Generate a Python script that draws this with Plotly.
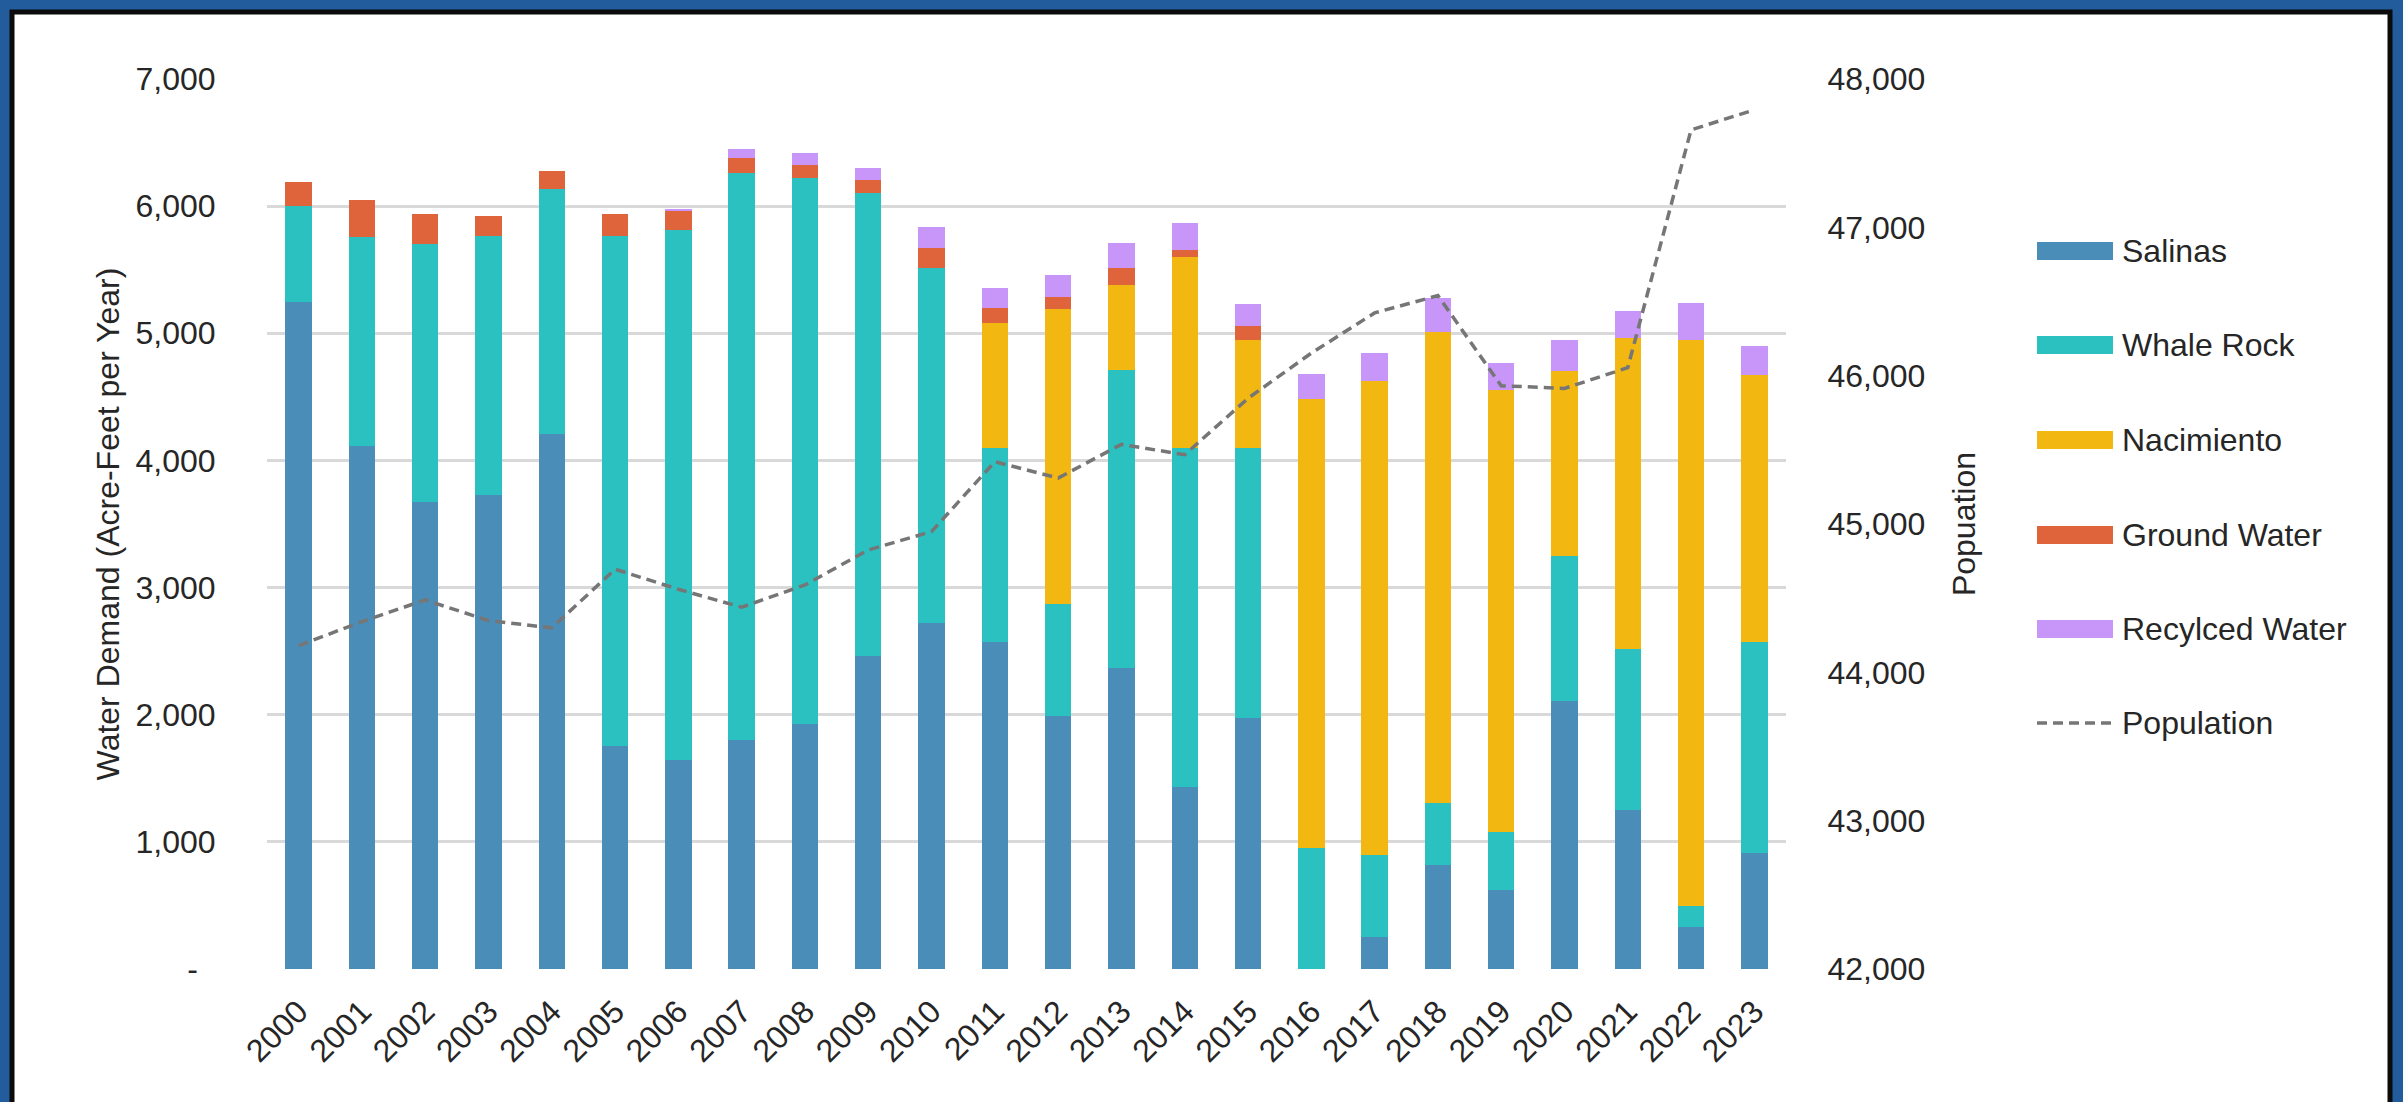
import plotly.graph_objects as go

years = [str(y) for y in range(2000, 2024)]

salinas = [5250, 4115, 3670, 3730, 4205, 1755, 1640, 1805, 1925, 2462, 2721, 2570,
           1990, 2368, 1434, 1977, 0, 255, 821, 624, 2105, 1250, 329, 916]
whale_rock = [750, 1640, 2035, 2035, 1930, 4010, 4175, 4455, 4300, 3645, 2793, 1530,
              880, 2344, 2662, 2123, 953, 645, 482, 455, 1140, 1263, 163, 1658]
nacimiento = [0, 0, 0, 0, 0, 0, 0, 0, 0, 0, 0, 980,
              2320, 670, 1506, 844, 3533, 3724, 3711, 3476, 1458, 2449, 4452, 2099]
ground_water = [190, 295, 230, 155, 145, 170, 150, 120, 95, 95, 155, 115,
                95, 130, 50, 110, 0, 0, 0, 0, 0, 0, 0, 0]
recycled_water = [0, 0, 0, 0, 0, 0, 15, 70, 100, 100, 170, 160,
                  170, 195, 215, 180, 190, 221, 262, 211, 244, 217, 296, 226]
population = [44180, 44342, 44488, 44349, 44300, 44695, 44560, 44439, 44589, 44825, 44949, 45420,
              45310, 45537, 45467, 45847, 46152, 46423, 46540, 45932, 45914, 46054, 47657, 47792]

series_names = ["Salinas", "Whale Rock", "Nacimiento", "Ground Water", "Recylced Water"]
series_values = [salinas, whale_rock, nacimiento, ground_water, recycled_water]
series_colors = ["#4A8DB8", "#2BC1C1", "#F2B711", "#E0643B", "#C895F8"]
pop_name = "Population"
pop_color = "#767676"

left_tick_vals = [0, 1000, 2000, 3000, 4000, 5000, 6000, 7000]
left_tick_text = ["-\u00a0\u00a0", "1,000", "2,000", "3,000", "4,000", "5,000", "6,000", "7,000"]
right_tick_vals = [42000, 43000, 44000, 45000, 46000, 47000, 48000]

left_title = "Water Demand (Acre-Feet per Year)"
right_title = "Popuation"

# ---- layout geometry (pixels) ----
W, H = 2403, 1102
PL, PR, PT, PB = 267, 1786, 79, 969
FONT = "Liberation Sans, Arial, sans-serif"
TXT = "#262626"
FS = 32

def px_x(x):
    return (x - PL) / (PR - PL)

def px_y(y):
    return (PB - y) / (PB - PT)

fig = go.Figure()
for name, vals, col in zip(series_names, series_values, series_colors):
    fig.add_trace(go.Bar(x=years, y=vals, name=name, marker=dict(color=col, line=dict(width=0)),
                         showlegend=False))
fig.add_trace(go.Scatter(x=years, y=population, name=pop_name, yaxis="y2", mode="lines",
                         line=dict(color=pop_color, width=3.5, dash="10px,6px"),
                         showlegend=False))

shapes = []
annotations = []
# white panel with dark frame
shapes.append(dict(type="rect", xref="paper", yref="paper", layer="below",
                   x0=px_x(12), x1=px_x(2390), y0=px_y(1110), y1=px_y(12),
                   fillcolor="white", line=dict(color="#0b0b0b", width=5)))

# manual legend
leg_y = [251, 345, 440, 535, 629, 723]
for i, (name, col) in enumerate(zip(series_names, series_colors)):
    yc = leg_y[i]
    shapes.append(dict(type="rect", xref="paper", yref="paper",
                       x0=px_x(2037), x1=px_x(2113), y0=px_y(yc + 9), y1=px_y(yc - 9),
                       fillcolor=col, line=dict(width=0)))
    annotations.append(dict(xref="paper", yref="paper", x=px_x(2120), y=px_y(yc), text=name,
                            showarrow=False, xanchor="left", yanchor="middle",
                            font=dict(family=FONT, size=FS, color=TXT)))
yc = leg_y[5]
shapes.append(dict(type="line", xref="paper", yref="paper",
                   x0=px_x(2037), x1=px_x(2113), y0=px_y(yc), y1=px_y(yc),
                   line=dict(color=pop_color, width=3.5, dash="10px,6px")))
annotations.append(dict(xref="paper", yref="paper", x=px_x(2120), y=px_y(yc), text=pop_name,
                        showarrow=False, xanchor="left", yanchor="middle",
                        font=dict(family=FONT, size=FS, color=TXT)))

fig.update_layout(
    width=W, height=H,
    margin=dict(l=PL, r=W - PR, t=PT, b=H - PB, pad=0),
    paper_bgcolor="#225C9C",
    plot_bgcolor="rgba(0,0,0,0)",
    barmode="stack",
    bargap=0.583,
    font=dict(family=FONT, size=FS, color=TXT),
    showlegend=False,
    shapes=shapes,
    annotations=annotations,
    xaxis=dict(type="category", tickangle=-45, showgrid=False, zeroline=False, showline=False,
               ticks="outside", ticklen=10, tickcolor="rgba(0,0,0,0)",
               tickfont=dict(family=FONT, size=FS, color=TXT)),
    yaxis=dict(range=[0, 7000], tickvals=left_tick_vals, ticktext=left_tick_text,
               showgrid=True, gridcolor="#D9D9D9", gridwidth=2.5, zeroline=False, showline=False,
               ticks="outside", ticklen=44, tickcolor="rgba(0,0,0,0)",
               tickfont=dict(family=FONT, size=FS, color=TXT),
               title=dict(text=left_title, standoff=6, font=dict(family=FONT, size=FS, color=TXT))),
    yaxis2=dict(range=[42000, 48000], tickvals=right_tick_vals, tickformat=",",
                overlaying="y", side="right", showgrid=False, zeroline=False, showline=False,
                ticks="outside", ticklen=34, tickcolor="rgba(0,0,0,0)",
                tickfont=dict(family=FONT, size=FS, color=TXT),
                title=dict(text=right_title, standoff=28, font=dict(family=FONT, size=FS, color=TXT))),
)

fig.write_html("out.html", config={"displayModeBar": False},
               post_script="document.body.style.margin='0';document.body.style.overflow='hidden';")
